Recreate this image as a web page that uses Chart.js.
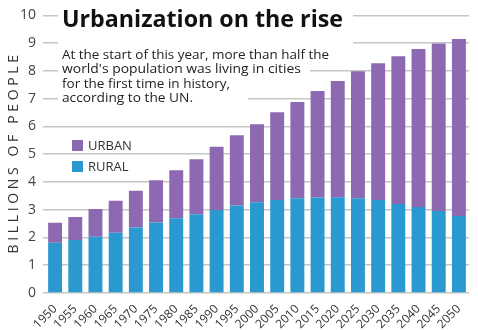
<!DOCTYPE html>
<html>
<head>
<meta charset="utf-8">
<script src="https://cdn.jsdelivr.net/npm/chart.js@4"></script>
<style>
  html, body { margin: 0; padding: 0; background: #fff; }
  #wrap { width: 478px; height: 330px; position: relative; }
</style>
</head>
<body>
<div id="wrap"><canvas id="urban-chart"></canvas></div>
<script>
// Years on the x axis
const years = ['1950','1955','1960','1965','1970','1975','1980','1985','1990','1995','2000',
  '2005','2010','2015','2020','2025','2030','2035','2040','2045','2050'];

// Billions of people
const rural = [1.81, 1.91, 2.03, 2.17, 2.36, 2.54, 2.69, 2.84, 2.99, 3.15, 3.27,
  3.35, 3.41, 3.44, 3.45, 3.41, 3.35, 3.21, 3.10, 2.95, 2.77];
const total = [2.53, 2.74, 3.03, 3.32, 3.68, 4.06, 4.42, 4.82, 5.27, 5.68, 6.08,
  6.51, 6.88, 7.28, 7.64, 7.99, 8.28, 8.53, 8.79, 8.99, 9.15];
const urban = total.map((t, i) => +(t - rural[i]).toFixed(2));

const yTicks = [0, 1, 2, 3, 4, 5, 6, 7, 8, 9, 10];

const titleText = 'Urbanization on the rise';
const noteLines = [
  'At the start of this year, more than half the',
  "world's population was living in cities",
  'for the first time in history,',
  'according to the UN.'
];

const PURPLE = '#8d69b1';
const BLUE = '#2a99cf';
const FONT = '"Open Sans", "Noto Sans", sans-serif';

// draw text squeezed/stretched to a given width
function fitText(ctx, text, x, y, width) {
  const w = ctx.measureText(text).width;
  ctx.save();
  ctx.translate(x, y);
  ctx.scale(width / w, 1);
  ctx.fillText(text, 0, 0);
  ctx.restore();
}

// Title, note and legend drawn over the grid, under the bars
const overlayPlugin = {
  id: 'overlay',
  beforeDatasetsDraw(chart) {
    const ctx = chart.ctx;
    ctx.save();

    // white boxes that cut the gridlines behind the text
    ctx.fillStyle = '#fff';
    ctx.fillRect(58, 4, 295, 42);
    ctx.fillRect(58, 46, 252, 30);
    ctx.fillRect(58, 76, 190, 28);

    ctx.fillStyle = '#111';
    ctx.textBaseline = 'alphabetic';
    ctx.font = 'bold 24px ' + FONT;
    fitText(ctx, titleText, 62, 27, 281);

    ctx.fillStyle = '#222';
    ctx.font = '13.5px ' + FONT;
    const baselines = [58.5, 73, 87.5, 102];
    const widths = [267, 239, 168, 131];
    noteLines.forEach((line, i) => fitText(ctx, line, 62, baselines[i], widths[i]));

    // legend: urban on top, rural below
    const items = [chart.data.datasets[1], chart.data.datasets[0]];
    ctx.font = '13px ' + FONT;
    ctx.textBaseline = 'middle';
    items.forEach((ds, i) => {
      const y = 140 + i * 21;
      ctx.fillStyle = ds.backgroundColor;
      ctx.fillRect(72, y, 11, 11);
      ctx.fillStyle = '#333';
      ctx.fillText(ds.label, 88, y + 6);
    });

    ctx.restore();
  }
};

new Chart(document.getElementById('urban-chart'), {
  type: 'bar',
  data: {
    labels: years,
    datasets: [
      { label: 'RURAL', data: rural, backgroundColor: BLUE },
      { label: 'URBAN', data: urban, backgroundColor: PURPLE }
    ]
  },
  options: {
    responsive: true,
    maintainAspectRatio: false,
    animation: false,
    events: [],
    layout: { padding: { top: 15, right: 9, left: 0, bottom: 0 } },
    datasets: {
      bar: { barPercentage: 0.69, categoryPercentage: 1 }
    },
    plugins: {
      legend: { display: false },
      tooltip: { enabled: false }
    },
    scales: {
      x: {
        stacked: true,
        grid: { display: false },
        border: { display: false },
        ticks: {
          color: '#333',
          font: { family: FONT, size: 12 },
          autoSkip: false,
          minRotation: 45,
          maxRotation: 45,
          padding: 1
        },
        afterFit(scale) { scale.height = 37; }
      },
      y: {
        stacked: true,
        min: 0,
        max: 10,
        afterBuildTicks(scale) { scale.ticks = yTicks.map(v => ({ value: v })); },
        grid: { color: '#c6c6c6', lineWidth: 1.5, tickLength: 2 },
        border: { display: false },
        ticks: {
          color: '#444',
          font: { family: FONT, size: 14 },
          padding: 7
        },
        title: {
          display: true,
          text: 'B I L L I O N S   O F   P E O P L E',
          color: '#333',
          font: { family: FONT, size: 14 },
          padding: { top: 6, bottom: 0 }
        },
        afterFit(scale) { scale.width = 45; }
      }
    }
  },
  plugins: [overlayPlugin]
});
</script>
</body>
</html>
